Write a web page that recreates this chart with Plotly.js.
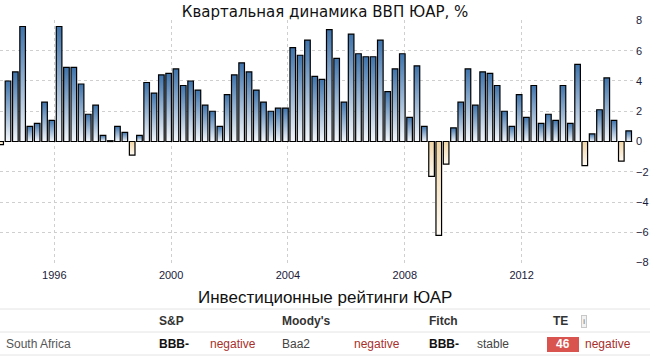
<!DOCTYPE html>
<html>
<head>
<meta charset="utf-8">
<script src="https://cdn.plot.ly/plotly-3.0.1.min.js"></script>
<style>
html,body{margin:0;padding:0;background:#fff;}
#chart{width:650px;height:360px;}
</style>
</head>
<body>
<div id="chart"></div>
<script>
// Quarter dates (bars are placed on the last month of each quarter)
const quarters = [
  '1994-03-01','1994-06-01','1994-09-01','1994-12-01',
  '1995-03-01','1995-06-01','1995-09-01','1995-12-01',
  '1996-03-01','1996-06-01','1996-09-01','1996-12-01',
  '1997-03-01','1997-06-01','1997-09-01','1997-12-01',
  '1998-03-01','1998-06-01','1998-09-01','1998-12-01',
  '1999-03-01','1999-06-01','1999-09-01','1999-12-01',
  '2000-03-01','2000-06-01','2000-09-01','2000-12-01',
  '2001-03-01','2001-06-01','2001-09-01','2001-12-01',
  '2002-03-01','2002-06-01','2002-09-01','2002-12-01',
  '2003-03-01','2003-06-01','2003-09-01','2003-12-01',
  '2004-03-01','2004-06-01','2004-09-01','2004-12-01',
  '2005-03-01','2005-06-01','2005-09-01','2005-12-01',
  '2006-03-01','2006-06-01','2006-09-01','2006-12-01',
  '2007-03-01','2007-06-01','2007-09-01','2007-12-01',
  '2008-03-01','2008-06-01','2008-09-01','2008-12-01',
  '2009-03-01','2009-06-01','2009-09-01','2009-12-01',
  '2010-03-01','2010-06-01','2010-09-01','2010-12-01',
  '2011-03-01','2011-06-01','2011-09-01','2011-12-01',
  '2012-03-01','2012-06-01','2012-09-01','2012-12-01',
  '2013-03-01','2013-06-01','2013-09-01','2013-12-01',
  '2014-03-01','2014-06-01','2014-09-01','2014-12-01',
  '2015-03-01','2015-06-01','2015-09-01'
];
// Quarterly GDP growth, % (annualised q/q)
const gdpGrowth = [
  -0.2, 4.0, 4.6, 7.6,
  1.0, 1.2, 2.6, 1.4,
  7.6, 4.9, 4.9, 3.8,
  1.8, 2.4, 0.4, 0.05,
  1.0, 0.6, -0.9, 0.4,
  3.9, 3.2, 4.4, 4.5,
  4.8, 3.7, 4.0, 3.4,
  2.4, 2.0, 1.0, 3.1,
  4.4, 5.2, 4.6, 3.4,
  2.6, 2.0, 2.2, 2.2,
  6.2, 5.7, 6.7, 4.3,
  4.1, 7.4, 5.5, 2.6,
  7.1, 5.8, 5.6, 5.6,
  6.7, 3.3, 4.8, 5.8,
  1.6, 5.0, 1.0, -2.3,
  -6.2, -1.5, 0.9, 2.6,
  4.8, 2.4, 4.6, 4.5,
  3.7, 2.0, 1.0, 3.1,
  1.6, 3.7, 1.2, 1.8,
  1.4, 3.7, 1.2, 5.1,
  -1.6, 0.5, 2.1, 4.2,
  1.4, -1.3, 0.7
];
const yTicks = [-8, -6, -4, -2, 0, 2, 4, 6, 8];

const chartTitle = 'Квартальная динамика ВВП ЮАР, %';
const tableTitle = 'Инвестиционные рейтинги ЮАР';
const country = 'South Africa';
const agencies = ['S&P', "Moody's", 'Fitch', 'TE'];
const ratings = ['BBB-', 'Baa2', 'BBB-', '46'];
const outlooks = ['negative', 'negative', 'stable', 'negative'];

// layout helpers (pixel -> paper)
const PW = 633, PT = 20, PB = 263;
const px = x => x / PW;
const py = y => (PB - y) / (PB - PT);

const posColor = '#5a8cc2', negColor = '#f3dcb2';

const trace = {
  type: 'bar',
  x: quarters,
  y: gdpGrowth,
  marker: {
    color: gdpGrowth.map(v => v >= 0 ? posColor : negColor),
    line: {color: '#000', width: 1.2}
  },
  hoverinfo: 'none'
};

const F = 'Liberation Sans, Arial, sans-serif';
const agencyX = [157, 280, 427, 551];
const ratingX = [157, 280, 427, 563];
const outlookX = [208, 352, 475, 583];

const annotations = [];
annotations.push({text: tableTitle, x: px(325), y: py(297), xref: 'paper', yref: 'paper',
  xanchor: 'center', yanchor: 'middle', showarrow: false,
  font: {family: F, size: 17, color: '#111'}});
annotations.push({text: country, x: px(4), y: py(344), xref: 'paper', yref: 'paper',
  xanchor: 'left', yanchor: 'middle', showarrow: false,
  font: {family: F, size: 12, color: '#555'}});
agencies.forEach((a, i) => {
  annotations.push({text: '<b>' + a + '</b>', x: px(agencyX[i]), y: py(321), xref: 'paper', yref: 'paper',
    xanchor: 'left', yanchor: 'middle', showarrow: false,
    font: {family: F, size: 12, color: '#333'}});
});
ratings.forEach((r, i) => {
  const isTE = i === 3;
  annotations.push({text: (i === 1 ? r : '<b>' + r + '</b>'), x: px(ratingX[i]), y: py(344), xref: 'paper', yref: 'paper',
    xanchor: isTE ? 'center' : 'left', yanchor: 'middle', showarrow: false,
    font: {family: F, size: 12, color: isTE ? '#fff' : (i === 1 ? '#444' : '#111')}});
});
outlooks.forEach((o, i) => {
  annotations.push({text: o, x: px(outlookX[i]), y: py(344), xref: 'paper', yref: 'paper',
    xanchor: 'left', yanchor: 'middle', showarrow: false,
    font: {family: F, size: 12, color: o === 'negative' ? '#a8302c' : '#444'}});
});
// info icon
annotations.push({text: '<b>i</b>', x: px(584), y: py(321), xref: 'paper', yref: 'paper',
  xanchor: 'center', yanchor: 'middle', showarrow: false,
  font: {family: F, size: 8, color: '#999'}, bordercolor: '#c8c8c8', borderwidth: 1, borderpad: 1, bgcolor: '#f2f2f2'});

const shapes = [309, 332, 355].map(y => ({
  type: 'line', xref: 'paper', yref: 'paper', x0: 0, x1: px(650), y0: py(y), y1: py(y),
  line: {color: '#e4e4e4', width: 1}
}));
shapes.push({type: 'rect', xref: 'paper', yref: 'paper', x0: px(547), x1: px(579), y0: py(352), y1: py(337),
  fillcolor: '#d9534f', line: {width: 0}});

const layout = {
  width: 650, height: 360,
  margin: {l: 0, r: 650 - PW, t: PT, b: 360 - PB, pad: 0},
  paper_bgcolor: '#fff', plot_bgcolor: '#fff',
  showlegend: false,
  bargap: 0.22,
  title: {text: chartTitle, x: 0.5, xref: 'container', xanchor: 'center',
    y: 1 - 12 / 360, yref: 'container', yanchor: 'middle',
    font: {family: 'DejaVu Sans, sans-serif', size: 15, color: '#111'}},
  xaxis: {
    type: 'date', range: ['1994-02-21', '2015-10-25'],
    tick0: '1996-01-01', dtick: 'M48', tickformat: '%Y',
    showgrid: true, gridcolor: '#cfcfcf', griddash: 'dot', gridwidth: 1,
    zeroline: false, showline: false, ticks: '',
    ticklabelstandoff: 4,
    tickfont: {family: F, size: 11, color: '#1a1a3a'}
  },
  yaxis: {
    side: 'right', range: [-8.03, 8.03], tickvals: yTicks,
    showgrid: true, gridcolor: '#cfcfcf', griddash: 'dot', gridwidth: 1,
    zeroline: false, showline: false, ticks: '',
    ticklabelstandoff: 2,
    tickfont: {family: F, size: 11, color: '#1a1a3a'}
  },
  annotations: annotations,
  shapes: shapes
};

function applyGradients(gd) {
  const svg = gd.querySelector('svg.main-svg');
  if (!svg) return;
  const NS = 'http://www.w3.org/2000/svg';
  let defs = svg.querySelector('defs');
  if (!defs) { defs = document.createElementNS(NS, 'defs'); svg.insertBefore(defs, svg.firstChild); }
  function grad(id, top, bottom) {
    if (svg.querySelector('#' + id)) return;
    const g = document.createElementNS(NS, 'linearGradient');
    g.setAttribute('id', id);
    g.setAttribute('x1', '0'); g.setAttribute('y1', '0');
    g.setAttribute('x2', '0'); g.setAttribute('y2', '1');
    [[0, top], [1, bottom]].forEach(([o, c]) => {
      const s = document.createElementNS(NS, 'stop');
      s.setAttribute('offset', o); s.setAttribute('stop-color', c);
      g.appendChild(s);
    });
    defs.appendChild(g);
  }
  grad('gPos', '#3e73ab', '#f5f8fc');
  grad('gNeg', '#f1d6a6', '#fffbf4');
  const paths = gd.querySelectorAll('.barlayer .trace .point path');
  paths.forEach((p, i) => {
    p.style.fill = gdpGrowth[i] >= 0 ? 'url(#gPos)' : 'url(#gNeg)';
  });
}

const gd = document.getElementById('chart');
Plotly.newPlot(gd, [trace], layout, {displayModeBar: false, staticPlot: true}).then(() => {
  applyGradients(gd);
  gd.on('plotly_afterplot', () => applyGradients(gd));
});
</script>
</body>
</html>
